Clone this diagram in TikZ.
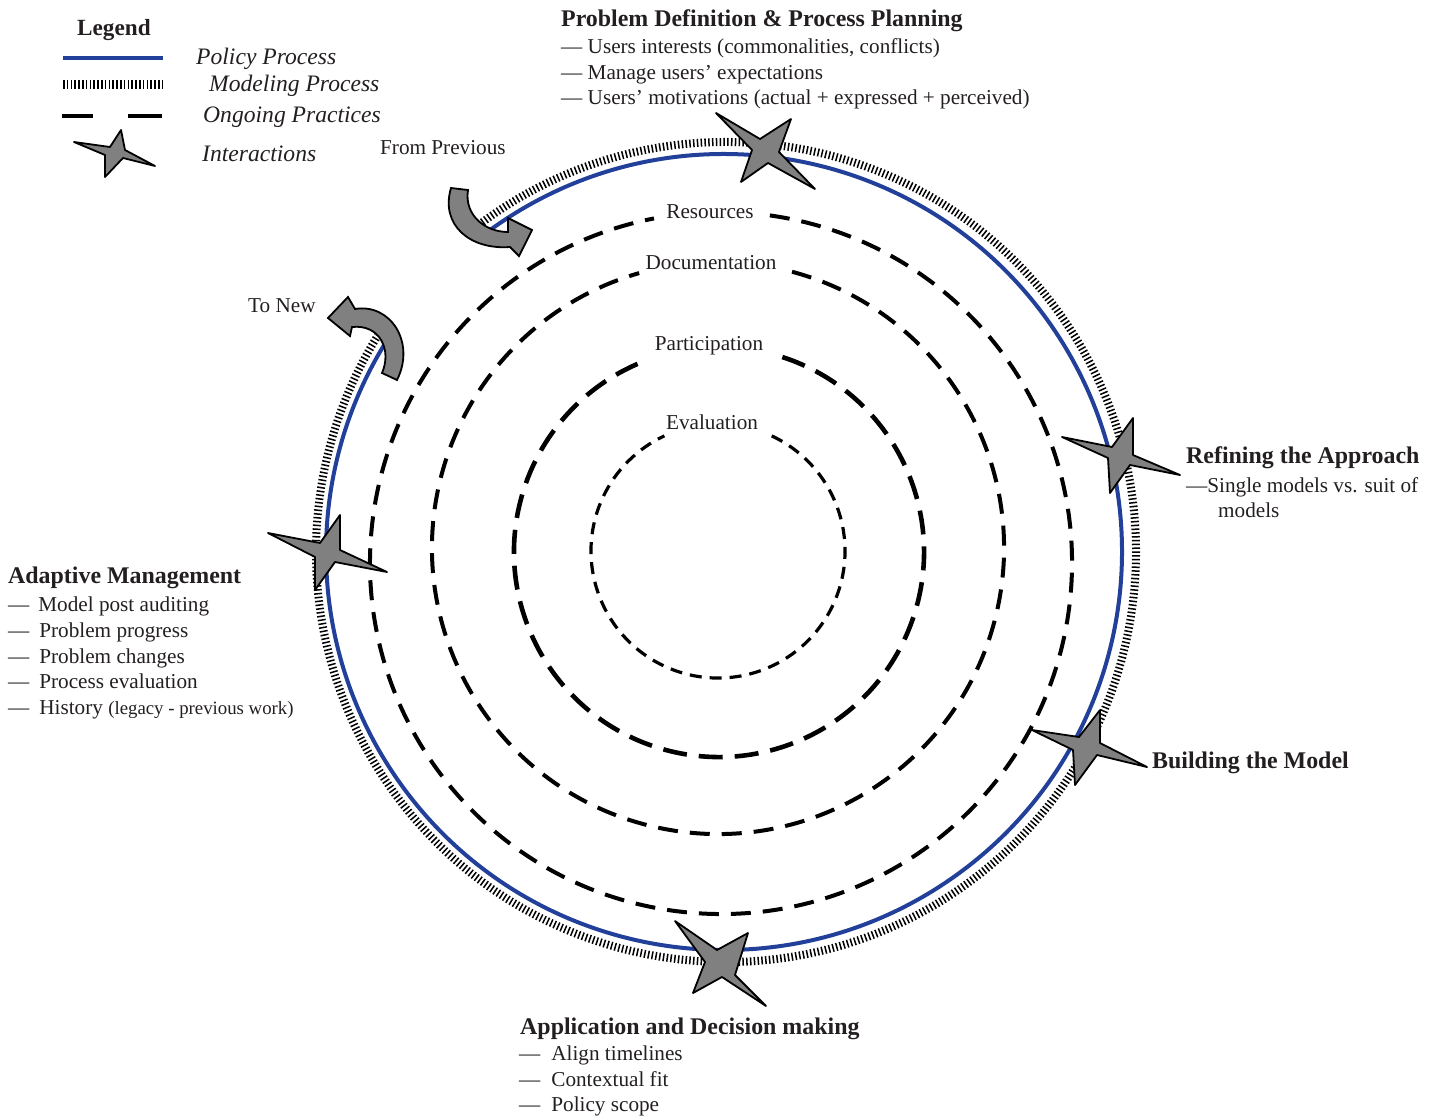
\documentclass[tikz,border=0pt]{standalone}
\usepackage{fontspec}
\setmainfont{Liberation Serif}
\definecolor{pblue}{RGB}{34,64,154}
\definecolor{txt}{RGB}{35,31,32}
\definecolor{sgray}{RGB}{128,128,128}
\begin{document}
\begin{tikzpicture}[x=1pt,y=1pt,
  lbl/.style={anchor=base west, inner sep=0pt, text=txt, font=\fontsize{21.2}{25.5}\selectfont},
  hd/.style={anchor=base west, inner sep=0pt, text=txt, font=\fontsize{23.9}{28}\selectfont\bfseries},
  leg/.style={anchor=base west, inner sep=0pt, text=txt, font=\fontsize{23.6}{28}\selectfont\itshape},
  ring/.style={anchor=base, inner sep=0pt, text=txt, font=\fontsize{21.2}{25.5}\selectfont},
  policy/.style={draw=pblue, line width=4pt},
  modeling/.style={draw=black, line width=8pt, dash pattern=on 1.5pt off 2.3pt},
  practice/.style={draw=black, line width=4pt, dash pattern=on 20pt off 12pt},
  inter/.style={fill=sgray, draw=black, line width=1.8pt, line join=round},
]
\useasboundingbox (0,0) rectangle (1439,-1116);

% ---------- ongoing practices (dashed rings) ----------
\draw[practice] (721,-563) ++(82:351) arc[start angle=82, end angle=-259, radius=351];
\draw[practice] (718,-548) ++(75:286) arc[start angle=75, end angle=-254, radius=286];
\draw[practice, line width=4.6pt, dash pattern=on 24pt off 12pt] (719,-552) ++(72:205) arc[start angle=72, end angle=-249, radius=205];
\draw[practice, line width=3.2pt, dash pattern=on 12pt off 8pt] (718,-551) ++(65:127) arc[start angle=65, end angle=-245, radius=127];

\node[ring] (res) at (710,-218) {Resources};
\node[ring] (doc) at (711,-269) {Documentation};
\node[ring] (par) at (709,-350) {Participation};
\node[ring] (eva) at (712,-429) {Evaluation};

% ---------- modeling and policy processes ----------
\draw[modeling] (726,-552) ++(127:410) arc[start angle=127, end angle=-211.8, radius=410];
\draw[policy] (724,-552) ++(125.8:398) arc[start angle=125.8, end angle=-211.4, radius=398];

% ---------- interaction stars ----------
\draw[inter] (716,-113) -- (760,-139) -- (791,-119) -- (779,-152) -- (815,-189) -- (768,-163) -- (741,-182) -- (752,-150) -- cycle;
\draw[inter] (1062,-437) -- (1112,-447) -- (1133,-418) -- (1133,-455) -- (1180,-475) -- (1130,-465) -- (1110,-493) -- (1108,-458) -- cycle;
\draw[inter] (1032,-730) -- (1079,-737) -- (1100,-710) -- (1100,-743) -- (1147,-767) -- (1097,-755) -- (1075,-785) -- (1073,-750) -- cycle;
\draw[inter] (675,-921) -- (717,-950) -- (748,-933) -- (735,-975) -- (766,-1006) -- (722,-977) -- (693,-993) -- (705,-962) -- cycle;
\draw[inter] (268,-533) -- (320,-543) -- (340,-515) -- (340,-550) -- (387,-572) -- (335,-562) -- (315,-590) -- (315,-557) -- cycle;

% ---------- arrows ----------
\draw[inter, line join=miter] (451,-188) .. controls (440,-225) and (470,-250) .. (510,-247)
  -- (519,-256) -- (532,-230) -- (508,-218) -- (508,-232)
  .. controls (485,-232) and (464,-215) .. (468,-190) -- cycle;
\draw[inter, line join=miter] (397,-380) .. controls (416,-342) and (390,-303) .. (355,-309)
  -- (348,-297) -- (328,-318) -- (350,-336) -- (352,-327)
  .. controls (380,-324) and (392,-350) .. (382,-373) -- cycle;
\node[lbl] (fromprev) at (380,-154) {From Previous};
\node[lbl] (tonew) at (248,-312) {To New};

% ---------- legend ----------
\node[hd, font=\fontsize{23.2}{28}\selectfont\bfseries] (legend) at (77,-36) {Legend};
\draw[policy] (63,-58) -- (163,-58);
\draw[black, line width=9pt, dash pattern=on 1.5pt off 2.3pt] (63,-84) -- (163,-84);
\draw[black, line width=4.5pt] (62,-116) -- (93,-116) (128,-116) -- (162,-116);
\draw[inter] (74,-142) -- (110,-147) -- (121,-130) -- (125,-150) -- (155,-166) -- (123,-158) -- (105,-177) -- (105,-155) -- cycle;
\node[leg] (lpol) at (196,-64) {Policy Process};
\node[leg] (lmod) at (209,-92) {Modeling Process};
\node[leg] (long) at (203,-122) {Ongoing Practices};
\node[leg] (lint) at (202,-161) {Interactions};

% ---------- phase texts ----------
\node[hd] (pd) at (561,-27) {Problem Definition \& Process Planning};
\node[lbl] (pd1) at (561,-53) {— Users interests (commonalities, conflicts)};
\node[lbl] (pd2) at (561,-79) {— Manage users’ expectations};
\node[lbl] (pd3) at (561,-104) {— Users’ motivations (actual + expressed + perceived)};

\node[hd] (ra) at (1186,-463) {Refining the Approach};
\node[lbl] (ra1) at (1186,-492) {—Single models vs. suit of};
\node[lbl] (ra2) at (1218,-517) {models};

\node[hd] (bm) at (1152,-768) {Building the Model};

\node[hd] (am) at (8,-583) {Adaptive Management};
\node[lbl] (am1) at (8,-611) {—\hspace{9pt}Model post auditing};
\node[lbl] (am2) at (8,-637) {—\hspace{10pt}Problem progress};
\node[lbl] (am3) at (8,-663) {—\hspace{10pt}Problem changes};
\node[lbl] (am4) at (8,-688) {—\hspace{10pt}Process evaluation};
\node[lbl] (am5) at (8,-714) {—\hspace{10pt}History {\fontsize{18.8}{22}\selectfont(legacy - previous work)}};

\node[hd] (ad) at (520,-1034) {Application and Decision making};
\node[lbl] (ad1) at (519,-1060) {—\hspace{11pt}Align timelines};
\node[lbl] (ad2) at (519,-1086) {—\hspace{11pt}Contextual fit};
\node[lbl] (ad3) at (519,-1111) {—\hspace{11pt}Policy scope};
\end{tikzpicture}
\end{document}
